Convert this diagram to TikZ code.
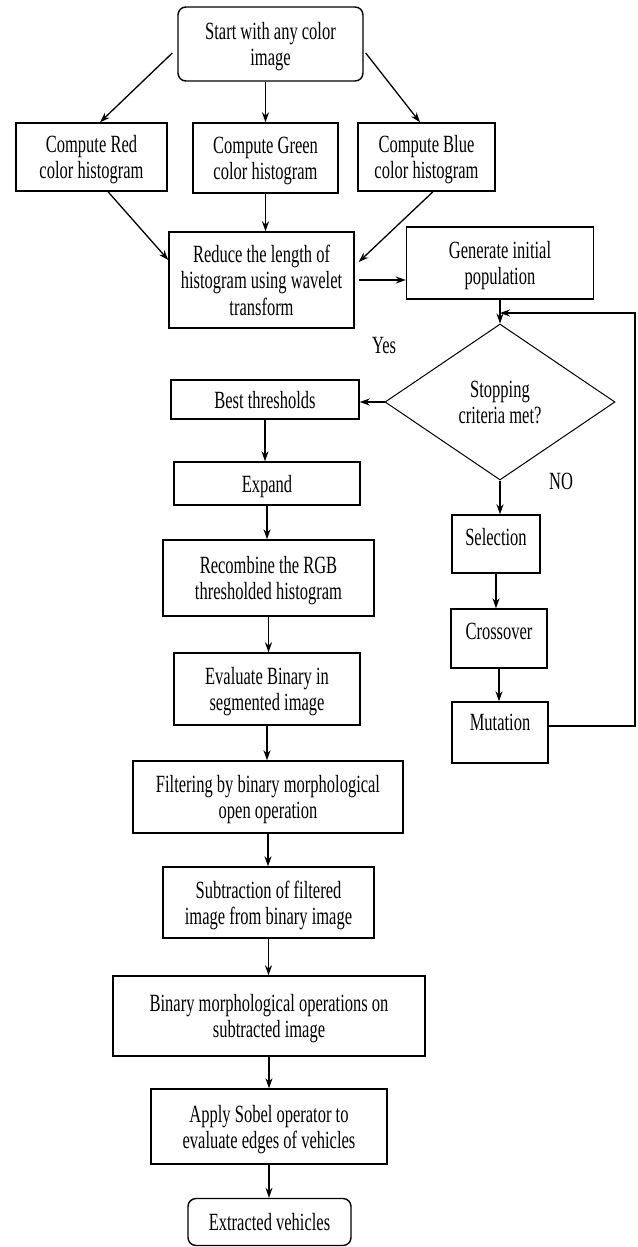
\documentclass[tikz,border=0pt]{standalone}
\usepackage{fontspec}
\setmainfont{Liberation Serif}
\usepackage{graphicx}
\usetikzlibrary{shapes.geometric,arrows.meta}
\newcommand\tx[2][0pt]{\raisebox{\dimexpr#1-10pt\relax}[0pt][0pt]{\scalebox{1}[1.5]{\begin{tabular}{@{}c@{}}#2\end{tabular}}}}
\begin{document}
\begin{tikzpicture}[x=1pt,y=-1pt,
  box/.style={draw, line width=1.4pt, inner sep=0pt, font=\fontsize{16.5}{17.5}\selectfont},
  rbox/.style={box, rounded corners=8pt},
  dbox/.style={draw, diamond, line width=1pt, inner sep=0pt, font=\fontsize{16.5}{17.5}\selectfont},
  arr/.style={-{Stealth[length=10pt,width=7pt]}, line width=1.3pt},
  lbl/.style={inner sep=0pt, font=\fontsize{16.5}{17.5}\selectfont}]
\useasboundingbox (0,0) rectangle (637,1247);
% nodes
\node[rbox, minimum width=185pt, minimum height=74pt] (start) at (270.5,44) {\tx{Start with any color\\image}};
\node[box, minimum width=151pt, minimum height=68pt] (red) at (91.5,157) {\tx{Compute Red\\color histogram}};
\node[box, minimum width=145pt, minimum height=70pt] (green) at (265.5,158) {\tx{Compute Green\\color histogram}};
\node[box, minimum width=137pt, minimum height=68pt] (blue) at (426.5,157) {\tx{Compute Blue\\color histogram}};
\node[box, minimum width=185pt, minimum height=96pt] (reduce) at (261.5,280) {\tx{Reduce the length of\\histogram using wavelet\\transform}};
\node[box, minimum width=187pt, minimum height=72pt] (gen) at (500,263) {\tx{Generate initial\\population}};
\node[dbox, minimum width=230pt, minimum height=156pt] (dia) at (500,402) {\tx{Stopping\\criteria met?}};
\node[box, minimum width=188pt, minimum height=39pt] (best) at (265,399.5) {\tx{Best thresholds}};
\node[box, minimum width=186pt, minimum height=43pt] (expand) at (267,483.5) {\tx{Expand}};
\node[box, minimum width=211pt, minimum height=76pt] (recomb) at (268.5,578) {\tx{Recombine the RGB\\thresholded histogram}};
\node[box, minimum width=186pt, minimum height=72pt] (eval) at (267,689) {\tx{Evaluate Binary in\\segmented image}};
\node[box, minimum width=270pt, minimum height=72pt] (filt) at (268,797) {\tx{Filtering by binary morphological\\open operation}};
\node[box, minimum width=211pt, minimum height=71pt] (subt) at (268.5,902.5) {\tx{Subtraction of filtered\\image from binary image}};
\node[box, minimum width=312pt, minimum height=80pt] (bmorph) at (269,1016) {\tx{Binary morphological operations on\\subtracted image}};
\node[box, minimum width=236pt, minimum height=75pt] (sobel) at (269,1126.5) {\tx{Apply Sobel operator to\\evaluate edges of vehicles}};
\node[rbox, minimum width=163pt, minimum height=47pt] (extr) at (269.5,1222) {\tx{Extracted vehicles}};
\node[box, minimum width=88pt, minimum height=58pt] (sel) at (496,544) {\tx[7pt]{Selection}};
\node[box, minimum width=96pt, minimum height=59pt] (cross) at (499,638.5) {\tx[8pt]{Crossover}};
\node[box, minimum width=96pt, minimum height=61pt] (mut) at (500,732.5) {\tx[11pt]{Mutation}};
\node[lbl] (yes) at (384,347) {\tx[2pt]{Yes}};
\node[lbl] (no) at (561,483) {\tx[2pt]{NO}};
% connectors
\draw[arr] ([xshift=-5pt,yshift=-9pt]start.west) -- ([xshift=8.5pt]red.north);
\draw[arr] (green.north |- start.south) -- (green.north);
\draw[arr] ([xshift=2pt,yshift=-9pt]start.east) -- ([xshift=-6.5pt]blue.north);
\draw[arr] ([xshift=16.5pt]red.south) -- ([yshift=20pt]reduce.west);
\draw[arr] (green.south) -- (green.south |- reduce.north);
\draw[arr] ([xshift=6.5pt]blue.south) -- ([xshift=4pt,yshift=18pt]reduce.east);
\draw[arr] ([xshift=4pt]reduce.east) -- (reduce.east -| gen.west);
\draw[arr] (gen.south) -- (dia.north);
\draw[arr] (dia.west) -- (dia.west -| best.east);
\draw[arr] (best.south) -- (best.south |- expand.north);
\draw[arr] (expand.south) -- (expand.south |- recomb.north);
\draw[arr] (recomb.south) -- (recomb.south |- eval.north);
\draw[arr] (eval.south) -- (eval.south |- filt.north);
\draw[arr] (filt.south) -- (filt.south |- subt.north);
\draw[arr] (subt.south) -- (subt.south |- bmorph.north);
\draw[arr] (bmorph.south) -- (bmorph.south |- sobel.north);
\draw[arr] (sobel.south) -- (sobel.south |- extr.north);
\draw[arr] (dia.south) -- (dia.south |- sel.north);
\draw[arr] (sel.south) -- (sel.south |- cross.north);
\draw[arr] (cross.south) -- (cross.south |- mut.north);
\coordinate (rc) at (635,313);
\coordinate (join) at (500,313);
\draw[arr] ([yshift=6.5pt]mut.east) -| (rc) -- (join);
\end{tikzpicture}
\end{document}
